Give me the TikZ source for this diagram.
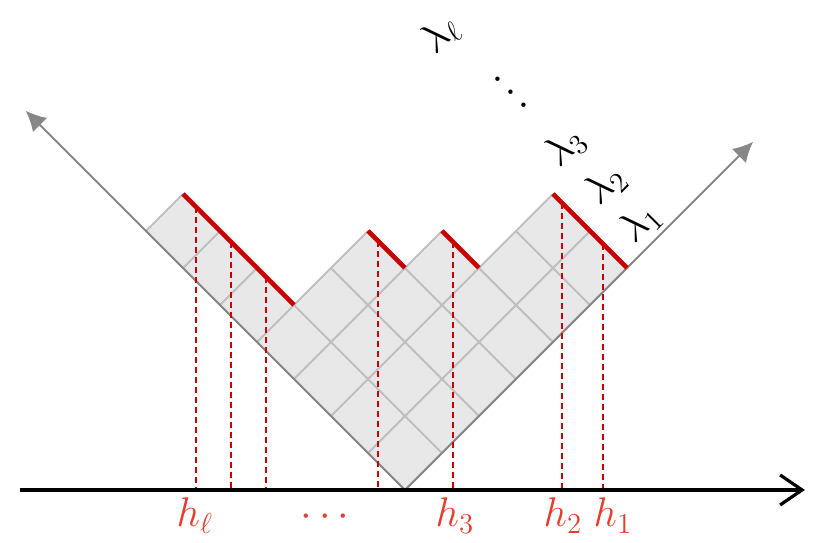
\documentclass[tikz,border=0pt]{standalone}
\usetikzlibrary{arrows.meta}
\definecolor{cellfill}{RGB}{232,232,232}
\definecolor{gridgray}{RGB}{192,192,192}
\definecolor{axisgray}{RGB}{135,135,135}
\definecolor{edgered}{RGB}{200,0,0}
\definecolor{labelred}{RGB}{228,62,45}
\begin{document}
\begin{tikzpicture}[x=18.5pt,y=18.5pt,
  cell/.style={fill=cellfill,draw=gridgray,line width=1pt,line join=round},
  rowend/.style={draw=edgered,line width=2.3pt},
  hline/.style={draw=edgered,line width=0.7pt,dash pattern=on 3pt off 2pt},
  graxis/.style={draw=axisgray,line width=1pt,-{Latex[length=10pt,width=10pt]}},
  haxis/.style={draw=black,line width=1.6pt,-{Straight Barb[length=11pt,width=15pt,line width=1.6pt]}},
  hlab/.style={text=labelred,anchor=base,inner sep=0pt,font=\huge},
  llab/.style={rotate=45,inner sep=0pt,font=\huge}]
\useasboundingbox (-10.946,-1.432) rectangle (11.514,13.243);

% cells in rotated coordinates (u up-right, v up-left)
\begin{scope}[x={(18.5pt,18.5pt)},y={(-18.5pt,18.5pt)}]
  \foreach \len [count=\r from 0] in {6,6,4,3,1,1,1} {
    \foreach \u in {1,...,\len} {
      \draw[cell] (\u-1,\r) -- (\u,\r) -- (\u,\r+1) -- (\u-1,\r+1) -- cycle;
    }
  }
  \coordinate (ea1) at (6,0); \coordinate (eb1) at (6,2);
  \coordinate (ea2) at (4,2); \coordinate (eb2) at (4,3);
  \coordinate (ea3) at (3,3); \coordinate (eb3) at (3,4);
  \coordinate (ea4) at (1,4); \coordinate (eb4) at (1,7);
\end{scope}

% grey axes
\coordinate (O) at (0,0);
\coordinate (Ltip) at (-10.25,10.25);
\coordinate (Rtip) at (9.41,9.41);
\draw[graxis] (O) -- (Ltip);
\draw[graxis] (O) -- (Rtip);

% dashed lines
\foreach \n/\x/\y in {1/5.351/6.649, 2/4.243/7.757, 3/1.297/6.703, 4/-0.730/6.730,
                      5/-3.757/5.757, 6/-4.703/6.703, 7/-5.649/7.649} {
  \coordinate (dt\n) at (\x,\y);
  \coordinate (db\n) at (\x,0);
  \draw[hline] (dt\n) -- (db\n);
}

% red row ends
\foreach \n in {1,2,3,4} { \draw[rowend] (ea\n) -- (eb\n); }

% horizontal axis
\coordinate (A0) at (-10.405,0);
\coordinate (A1) at (10.81,0);
\draw[haxis] (A0) -- (A1);

% h labels
\node[hlab] (hl) at (-5.68,-1.0) {$h_\ell$};
\node[hlab] (hd) at (-2.16,-1.0) {$\cdots$};
\node[hlab] (h3) at (1.35,-1.0) {$h_3$};
\node[hlab] (h2) at (4.27,-1.0) {$h_2$};
\node[hlab] (h1) at (5.62,-1.0) {$h_1$};

% lambda labels
\node[llab] (l1) at (6.35,7.22) {$\lambda_1$};
\node[llab] (l2) at (5.41,8.24) {$\lambda_2$};
\node[llab] (l3) at (4.32,9.27) {$\lambda_3$};
\node[llab,rotate=-90] (ld) at (2.84,10.73) {$\cdots$};
\node[llab] (ll) at (0.95,12.30) {$\lambda_\ell$};
\end{tikzpicture}
\end{document}
